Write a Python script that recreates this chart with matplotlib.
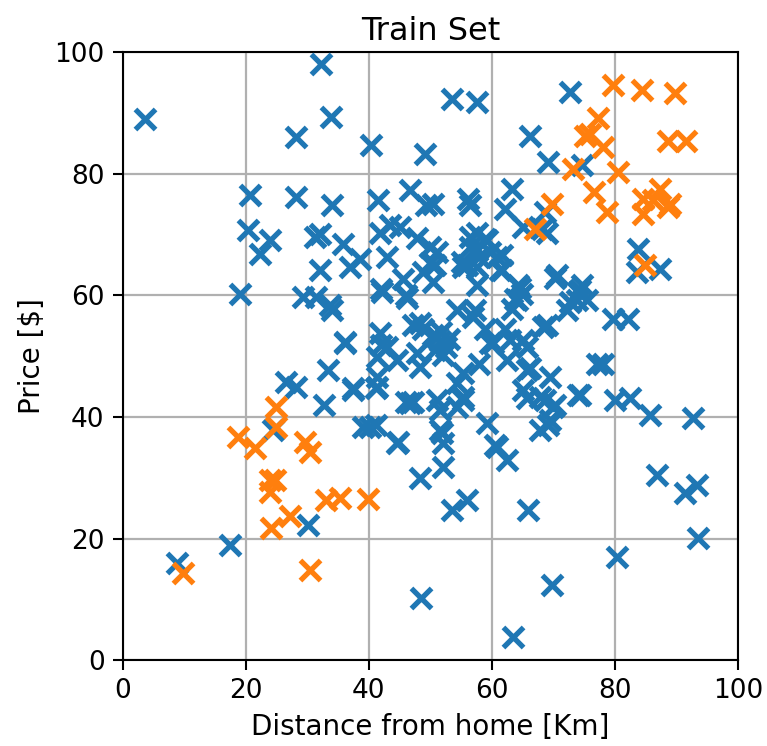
import numpy as np
import matplotlib
matplotlib.use("Agg")
import matplotlib.pyplot as plt

# ======================================================
# DANE
# ======================================================

# klasa 0 (niebieska)
blue_x = [3.7, 32.2, 33.8, 28.1, 40.3, 49.1,
          20.7, 28.1, 34.1, 41.5, 46.7, 49.3,
          20.3, 23.9, 22.3, 32.0, 31.2, 35.8, 38.5, 36.9,
          43.4, 41.8, 45.0, 47.8, 49.9, 42.9, 49.9,
          32.0, 19.0, 29.3, 31.4, 34.1, 33.7, 36.1,
          42.0, 45.5, 46.0, 48.8, 42.1, 46.2,
          41.8, 42.0, 47.2, 48.8, 48.3,
          53.5, 57.6, 72.7, 66.2, 69.1, 74.6,
          63.3, 56.1, 56.4, 50.4, 62.1, 68.6, 68.1, 65.0, 68.9,
          56.4, 58.9, 57.6, 59.2, 56.4, 57.6, 59.7, 61.6, 60.8, 58.0,
          55.1, 55.9, 51.1, 50.7, 55.3, 61.6, 61.3, 57.6,
          57.6, 50.4, 70.6, 70.2, 64.2, 64.6, 64.9, 64.1, 74.6, 74.0, 74.3, 73.8, 75.4,
          83.7, 83.6, 87.3,
          54.3, 57.2, 63.7, 63.3, 72.7, 72.2,
          79.7, 82.1, 58.9, 62.1, 68.9, 68.3, 56.9,
          65.0, 60.2, 59.7, 62.9, 65.7,
          51.1, 51.5, 52.5, 50.8, 52.0, 53.0, 51.8, 50.5,
          42.9, 36.1, 41.3, 44.6, 48.3, 47.8,
          37.4, 41.3, 41.3, 46.7, 51.1, 51.5, 55.3, 51.5, 40.2, 44.6, 52.0,
          58.0, 62.4, 65.7, 69.4, 77.1, 78.0, 65.0, 67.8, 69.9, 74.0, 74.3, 55.3, 55.3,
          59.2, 60.8, 67.8, 69.4, 69.1, 62.4, 60.5,
          54.3, 54.3, 66.2, 65.7, 68.6, 70.2,
          80.0, 82.4, 85.7, 92.7, 86.8, 91.4, 93.3, 93.5, 80.3, 69.8, 63.4, 65.9,
          53.5, 55.9, 52.0, 51.9,
          26.5, 28.1, 33.3, 37.4, 32.8, 24.4, 39.0, 41.1, 44.7, 48.3, 30.1, 17.4,
          8.9, 48.5, 41.1, 46.0, 47.2]
blue_y = [89.0, 98.0, 89.3, 86.0, 84.7, 83.2,
          76.5, 76.2, 74.8, 75.7, 77.3, 74.8,
          70.7, 69.1, 66.8, 70.1, 69.6, 68.4, 66.0, 64.6,
          71.5, 70.2, 71.2, 69.4, 67.9, 66.3, 65.3,
          64.1, 60.2, 59.7, 59.7, 57.6, 58.4, 52.3,
          61.0, 62.7, 60.0, 63.8, 60.5, 59.5,
          53.9, 51.8, 55.1, 54.4, 55.4,
          92.3, 91.8, 93.4, 86.3, 81.9, 81.4,
          77.5, 75.8, 74.8, 75.0, 74.2, 73.7, 70.9, 71.2, 70.2,
          69.6, 69.2, 70.2, 69.1, 67.9, 67.6, 67.1, 66.6, 66.3, 66.3,
          65.5, 65.0, 67.1, 65.0, 64.6, 64.1, 64.1, 64.6,
          61.7, 62.2, 63.3, 62.8, 61.7, 61.3, 60.2, 59.2, 61.7, 60.5, 60.9, 59.2, 59.2,
          67.6, 63.8, 64.3,
          57.6, 57.6, 59.4, 57.7, 58.9, 57.6,
          56.1, 56.1, 54.4, 54.4, 55.1, 54.8, 56.4,
          52.6, 52.1, 52.1, 52.6, 51.5,
          53.1, 52.5, 51.5, 51.0, 50.2, 52.8, 54.0, 53.5,
          51.5, 52.1, 49.8, 49.3, 48.2, 50.5,
          44.4, 44.9, 46.5, 42.3, 42.8, 41.1, 43.3, 37.8, 38.3, 35.7, 35.7,
          48.8, 49.3, 47.7, 46.5, 48.8, 48.8, 44.4, 43.3, 41.6, 43.6, 43.6, 47.2, 42.8,
          39.0, 35.0, 37.8, 39.5, 38.7, 32.9, 35.4,
          45.6, 41.6, 48.0, 43.1, 42.8, 41.9,
          42.8, 43.1, 40.3, 39.8, 30.4, 27.5, 28.8, 20.1, 16.9, 12.3, 3.8, 24.7,
          24.7, 26.3, 31.7, 37.3,
          45.7, 44.9, 47.7, 44.7, 41.9, 37.8, 38.3, 38.7, 35.9, 29.9, 22.2, 18.9,
          16.0, 10.2, 44.7, 42.4, 42.4]

# klasa 1 (pomaranczowa)
orange_x = [79.7, 84.4, 89.8, 77.2, 75.1, 76.0, 78.0, 73.2, 80.5, 88.6, 91.5,
            76.6, 78.7, 69.8, 67.0, 84.6, 87.3, 84.6, 88.6, 86.2, 89.0, 84.9,
            24.9, 24.9, 18.7, 21.5, 29.6, 30.4, 23.9, 24.7, 23.9, 27.2, 24.1,
            33.0, 35.3, 39.8, 9.8, 30.4]
orange_y = [94.6, 93.8, 93.3, 89.1, 86.3, 86.5, 84.4, 80.8, 80.3, 85.4, 85.4,
            77.0, 73.8, 75.0, 71.0, 75.8, 77.5, 73.4, 74.5, 75.7, 75.0, 65.0,
            41.6, 38.3, 36.7, 34.9, 35.9, 34.2, 29.6, 29.6, 27.6, 23.8, 21.7,
            26.3, 26.6, 26.5, 14.3, 14.8]

TICKS = [0, 20, 40, 60, 80, 100]

# ======================================================
# WYKRES
# ======================================================

fig = plt.figure(figsize=(7.67, 7.46), dpi=100)
ax = fig.add_axes([0.160, 0.115, 0.802, 0.815])

ax.scatter(blue_x, blue_y, marker='x', s=210, linewidths=3.8, color='tab:blue', zorder=3)
ax.scatter(orange_x, orange_y, marker='x', s=210, linewidths=3.8, color='tab:orange', zorder=3)

ax.set_xlim(0, 100)
ax.set_ylim(0, 100)
ax.set_xticks(TICKS)
ax.set_yticks(TICKS)
ax.tick_params(labelsize=19, length=7, width=1.5, pad=6)
for sp in ax.spines.values():
    sp.set_linewidth(1.5)
ax.grid(True, color='#b0b0b0', linewidth=1.6)
ax.set_axisbelow(True)

ax.set_xlabel("Distance from home [Km]", fontsize=20, labelpad=6)
ax.set_ylabel("Price [$]", fontsize=20, labelpad=6)
ax.set_title("Train Set", fontsize=23, pad=9)

fig.savefig("out.png", dpi=100)
